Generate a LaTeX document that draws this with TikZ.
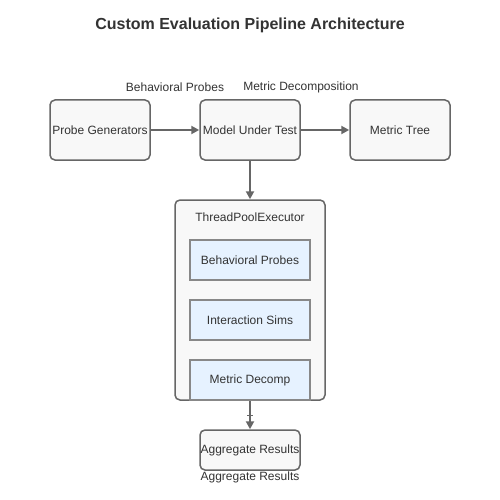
\documentclass[tikz,border=0pt]{standalone}
\usepackage{fontspec}
\setmainfont{Liberation Sans}
\usetikzlibrary{arrows.meta}
\definecolor{strokeC}{HTML}{666666}
\definecolor{boxfill}{HTML}{F8F8F8}
\definecolor{innerfill}{HTML}{E6F2FF}
\definecolor{innerstroke}{HTML}{888888}
\definecolor{txt}{HTML}{333333}
\begin{document}
\begin{tikzpicture}[x=1pt,y=-1pt,
  every node/.style={font=\fontsize{12}{14}\selectfont, text=txt, inner sep=0pt},
  mainbox/.style={draw=strokeC, line width=1.5pt, fill=boxfill, rounded corners=5pt, minimum width=100pt, minimum height=60pt},
  smallbox/.style={draw=strokeC, line width=1.5pt, fill=boxfill, rounded corners=5pt, minimum width=100pt, minimum height=40pt},
  container/.style={draw=strokeC, line width=1.5pt, fill=boxfill, rounded corners=5pt, minimum width=150pt, minimum height=200pt},
  innerbox/.style={draw=innerstroke, line width=1.5pt, fill=innerfill, minimum width=120pt, minimum height=40pt},
  conn/.style={draw=strokeC, line width=2pt, -{Triangle[length=8pt,width=8pt]}},
  lbl/.style={font=\fontsize{12}{14}\selectfont}
]
\useasboundingbox (0,0) rectangle (500,500);
\fill[white] (0,0) rectangle (500,500);
\node[font=\bfseries\fontsize{16}{19}\selectfont] (title) at (250,25) {Custom Evaluation Pipeline Architecture};

\node[mainbox] (pg) at (100,130) {\raisebox{-1pt}{Probe Generators}};
\node[mainbox] (mut) at (250,130) {\raisebox{-1pt}{Model Under Test}};
\node[mainbox] (mt) at (400,130) {\raisebox{-1pt}{Metric Tree}};

\node[lbl] (l1) at (175,87) {Behavioral Probes};
\node[lbl] (l2) at (301,87) {Metric Decomposition};

\node[container] (tpe) at (250,300) {};
\node (tpel) at (250,217) {ThreadPoolExecutor};
\node[innerbox] (bp) at (250,260) {\raisebox{-1pt}{Behavioral Probes}};
\node[innerbox] (is) at (250,320) {\raisebox{-1pt}{Interaction Sims}};
\node[innerbox] (md) at (250,380) {\raisebox{-1pt}{Metric Decomp}};

\node[smallbox] (ar) at (250,450) {\raisebox{-1pt}{Aggregate Results}};
\node (arl) at (250,477) {Aggregate Results};

\draw[conn] (pg.east) -- (mut.west);
\draw[conn] (mut.east) -- (mt.west);
\draw[conn] (mut.south) -- (tpe.north);
\draw[conn] (tpe.south) -- (ar.north);
\coordinate (tk) at (250,415);
\draw[strokeC, line width=1pt] ([xshift=-3pt]tk) -- ([xshift=3pt]tk);
\end{tikzpicture}
\end{document}
